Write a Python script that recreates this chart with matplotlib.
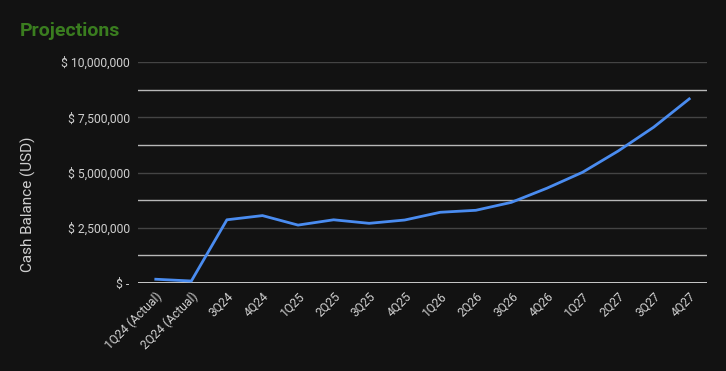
import matplotlib
matplotlib.use('Agg')
import matplotlib.pyplot as plt

plt.rcParams['font.family'] = ['Roboto', 'DejaVu Sans']

quarters = ['1Q24 (Actual)', '2Q24 (Actual)', '3Q24', '4Q24', '1Q25', '2Q25', '3Q25', '4Q25',
            '1Q26', '2Q26', '3Q26', '4Q26', '1Q27', '2Q27', '3Q27', '4Q27']
cash = [170000, 90000, 2860000, 3050000, 2620000, 2860000, 2700000, 2850000,
        3200000, 3290000, 3650000, 4290000, 5010000, 5970000, 7050000, 8330000]
major_ticks = [0, 2500000, 5000000, 7500000, 10000000]
major_labels = ['$ -', '$ 2,500,000', '$ 5,000,000', '$ 7,500,000', '$ 10,000,000']
minor_ticks = [1250000, 3750000, 6250000, 8750000]

bg = '#121212'
fig = plt.figure(figsize=(7.26, 3.71), dpi=100, facecolor=bg)
ax = fig.add_axes([138/726, 1-283/371, (707-138)/726, (283-62)/371])
ax.set_facecolor(bg)

x = list(range(len(quarters)))
ax.set_xlim(-0.5, len(quarters) - 0.5)
ax.set_ylim(0, 10000000)

for t in major_ticks[1:]:
    ax.axhline(t, color='#444444', lw=1, zorder=1)
for t in minor_ticks:
    ax.axhline(t, color='#b8b8b8', lw=1, zorder=1)
ax.axhline(0, color='#e8e8e8', lw=1.2, zorder=1)

ax.plot(x, cash, color='#4a8cf0', lw=2, zorder=3, solid_joinstyle='round')

ax.set_yticks(major_ticks)
ax.set_yticklabels(major_labels, color='#cfcfcf', fontsize=8.7)
ax.set_xticks(x)
ax.set_xticklabels(quarters, rotation=45, ha='right', rotation_mode='anchor',
                   color='#cfcfcf', fontsize=8.7)
ax.tick_params(axis='both', length=0)
ax.tick_params(axis='y', pad=6)
ax.tick_params(axis='x', pad=5)
for s in ax.spines.values():
    s.set_visible(False)

# y label sits a bit below the axis centre in the original
fig.text(28/726, 1-204/371, 'Cash Balance (USD)', color='#cfcfcf', fontsize=11,
         rotation=90, ha='center', va='center')

fig.text(20/726, 1-31/371, 'Projections', color='#3a7d1f', fontsize=14,
         fontweight='bold', va='center', ha='left')

fig.savefig('out.png', dpi=100, facecolor=bg)
